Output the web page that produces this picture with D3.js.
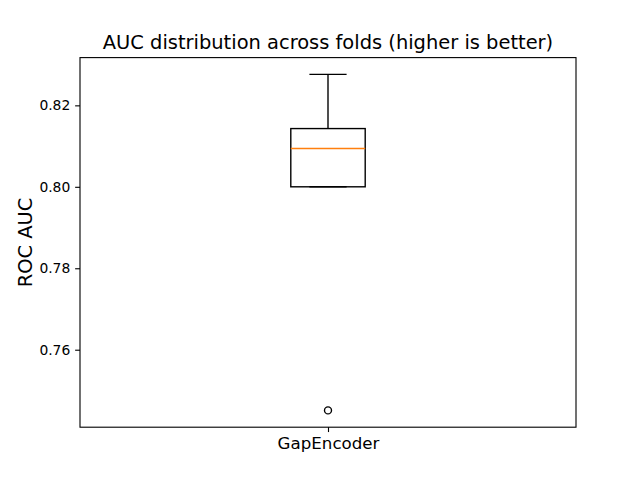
<!DOCTYPE html>
<html>
<head>
<meta charset="utf-8">
<script src="https://cdn.jsdelivr.net/npm/d3@7"></script>
<style>
body{margin:0;background:#fff;}
text{font-family:"DejaVu Sans",sans-serif;fill:#000;}
</style>
</head>
<body>
<svg id="chart" width="640" height="480"></svg>
<script>
// fold scores
var models=["GapEncoder"],
	foldAuc=[0.7451,0.8000,0.8094,0.8143,0.8276],
	yTicks=[0.76,0.78,0.80,0.82];

// note: "top" is taken by window.top, so plot edges get their own names
var plotLeft=80,plotRight=576,plotTop=57.6,plotBottom=427.2,
	BOXW=0.15,
	MEDIAN="#ff7f0e";

var svg=d3.select("#chart");

// box stats, same as matplotlib (whis=1.5)
var sorted=foldAuc.slice().sort(d3.ascending),
	q1=d3.quantile(sorted,0.25),
	med=d3.quantile(sorted,0.5),
	q3=d3.quantile(sorted,0.75),
	iqr=q3-q1,
	loFence=q1-1.5*iqr,
	hiFence=q3+1.5*iqr,
	inside=sorted.filter(function(v){return v>=loFence && v<=hiFence;}),
	whisLo=d3.min(inside),
	whisHi=d3.max(inside),
	fliers=sorted.filter(function(v){return v<loFence || v>hiFence;});

var lo=d3.min(sorted),hi=d3.max(sorted),pad=(hi-lo)*0.05;

var x=d3.scaleLinear().domain([0.5,1.5]).range([plotLeft,plotRight]);
var y=d3.scaleLinear().domain([lo-pad,hi+pad]).range([plotBottom,plotTop]);

var g=svg.append("g");
var pos=1;

// whiskers
g.selectAll(".whisker")
	.data([[q1,whisLo],[q3,whisHi]])
	.enter().append("line")
	.attr("x1",x(pos)).attr("x2",x(pos))
	.attr("y1",function(d){return y(d[0]);})
	.attr("y2",function(d){return y(d[1]);})
	.attr("stroke","#000").attr("stroke-width",1.39);

// caps
g.selectAll(".cap")
	.data([whisLo,whisHi])
	.enter().append("line")
	.attr("x1",x(pos-BOXW/4)).attr("x2",x(pos+BOXW/4))
	.attr("y1",function(d){return y(d);})
	.attr("y2",function(d){return y(d);})
	.attr("stroke","#000").attr("stroke-width",1.39);

// box
g.append("rect")
	.attr("x",x(pos-BOXW/2))
	.attr("y",y(q3))
	.attr("width",x(pos+BOXW/2)-x(pos-BOXW/2))
	.attr("height",y(q1)-y(q3))
	.attr("fill","none")
	.attr("stroke","#000").attr("stroke-width",1.39);

// median
g.append("line")
	.attr("x1",x(pos-BOXW/2)).attr("x2",x(pos+BOXW/2))
	.attr("y1",y(med)).attr("y2",y(med))
	.attr("stroke",MEDIAN).attr("stroke-width",1.39);

// outliers
g.selectAll(".flier")
	.data(fliers)
	.enter().append("circle")
	.attr("cx",x(pos))
	.attr("cy",function(d){return y(d);})
	.attr("r",3.5)
	.attr("fill","none")
	.attr("stroke","#000").attr("stroke-width",1.39);

// axes
var yAxis=d3.axisLeft(y).tickValues(yTicks).tickFormat(d3.format(".2f")).tickSize(4.86).tickPadding(4.86);
var yg=svg.append("g").attr("transform","translate("+plotLeft+",0)").call(yAxis);
yg.select(".domain").remove();
yg.selectAll("line").attr("stroke","#000").attr("stroke-width",1.11);
yg.selectAll("text").attr("font-size","13.89px").attr("font-family","DejaVu Sans").attr("fill","#000");

var xAxis=d3.axisBottom(x).tickValues([1]).tickFormat(function(d,i){return models[i];}).tickSize(4.86).tickPadding(4.86);
var xg=svg.append("g").attr("transform","translate(0,"+plotBottom+")").call(xAxis);
xg.select(".domain").remove();
xg.selectAll("line").attr("stroke","#000").attr("stroke-width",1.11);
xg.selectAll("text").attr("font-size","16.67px").attr("font-family","DejaVu Sans").attr("fill","#000");

// frame
svg.append("rect")
	.attr("x",plotLeft).attr("y",plotTop)
	.attr("width",plotRight-plotLeft).attr("height",plotBottom-plotTop)
	.attr("fill","none")
	.attr("stroke","#000").attr("stroke-width",1.11);

svg.append("text")
	.attr("x",(plotLeft+plotRight)/2).attr("y",plotTop-8.3)
	.attr("text-anchor","middle")
	.attr("font-size","19.44px")
	.text("AUC distribution across folds (higher is better)");

svg.append("text")
	.attr("transform","translate(32,"+((plotTop+plotBottom)/2)+") rotate(-90)")
	.attr("text-anchor","middle")
	.attr("font-size","19.44px")
	.text("ROC AUC");
</script>
</body>
</html>
